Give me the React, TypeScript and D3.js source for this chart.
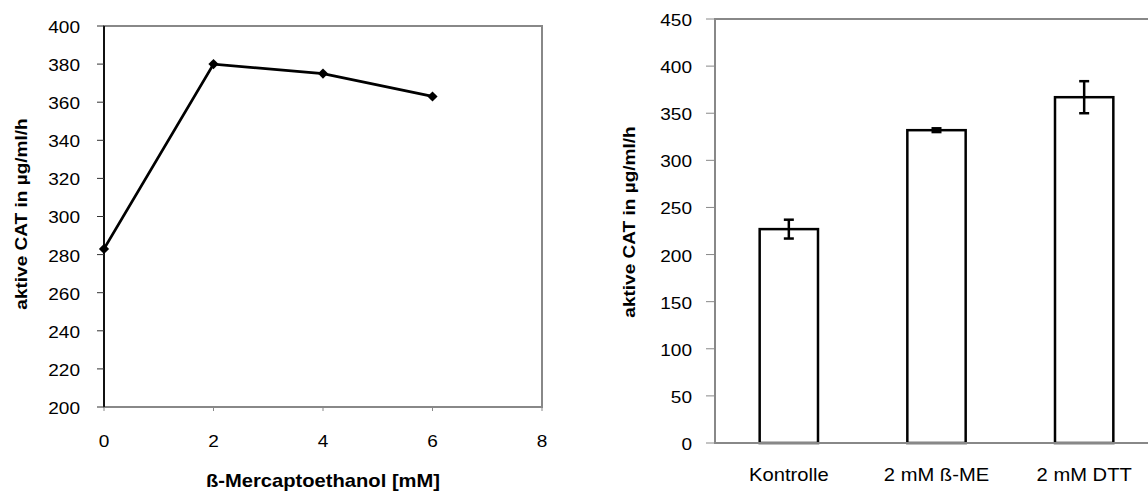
import React from "react";
import * as d3 from "d3";

const lineX = [0, 2, 4, 6];
const lineY = [283, 380, 375, 363];
const leftYTicks = [200, 220, 240, 260, 280, 300, 320, 340, 360, 380, 400];
const leftXTicks = [0, 2, 4, 6, 8];

const barCats = ["Kontrolle", "2 mM ß-ME", "2 mM DTT"];
const barVals = [227, 332, 367];
const barErr = [10, 2, 17];
const rightYTicks = [0, 50, 100, 150, 200, 250, 300, 350, 400, 450];

const yTitle = "aktive CAT in µg/ml/h";
const xTitle = "ß-Mercaptoethanol [mM]";

const FONT = "Arial, 'Liberation Sans', sans-serif";
const SX = 1.12;

function T(props: {
  x: number;
  y: number;
  size: number;
  anchor: "start" | "middle" | "end";
  bold?: boolean;
  rotate?: number;
  children: React.ReactNode;
}) {
  const { x, y, size, anchor, bold, rotate, children } = props;
  return (
    <text
      transform={`translate(${x},${y})${rotate ? ` rotate(${rotate})` : ""} scale(${SX},1)`}
      dy="0.35em"
      textAnchor={anchor}
      fontSize={size}
      fontWeight={bold ? "bold" : "normal"}
      fill="#000"
    >
      {children}
    </text>
  );
}

export default function App() {
  // Left chart
  const L = { left: 104, right: 542, top: 26, bottom: 407 };
  const lx = d3.scaleLinear().domain([0, 8]).range([L.left, L.right]);
  const ly = d3.scaleLinear().domain([200, 400]).range([L.bottom, L.top]);
  const linePath = d3
    .line<number>()
    .x((_, i) => lx(lineX[i]))
    .y((d) => ly(d))(lineY) as string;
  const diamond = d3.symbol(d3.symbolSquare, 52)() as string;

  // Right chart
  const R = { left: 715, right: 1158, top: 19, bottom: 443 };
  const rx = d3.scaleBand<string>().domain(barCats).range([R.left, R.right]).paddingInner(0.605).paddingOuter(0.3025);
  const ry = d3.scaleLinear().domain([0, 450]).range([R.bottom, R.top]);
  const bw = rx.bandwidth();

  return (
    <svg width={1148} height={494} style={{ position: "absolute", left: 0, top: 0, background: "#fff" }} fontFamily={FONT}>
      <rect x={0} y={0} width={1148} height={494} fill="#fff" />
      {/* LEFT CHART */}
      <rect x={L.left} y={L.top} width={L.right - L.left} height={L.bottom - L.top} fill="none" stroke="#888" strokeWidth={2} />
      <line x1={L.left} x2={L.left} y1={L.top} y2={L.bottom} stroke="#111" strokeWidth={2} />
      {leftYTicks.map((t) => (
        <g key={"ly" + t}>
          <line x1={L.left - 7} x2={L.left} y1={ly(t)} y2={ly(t)} stroke="#333" strokeWidth={1} />
          <T x={80} y={ly(t) + 1} size={17} anchor="end">
            {t}
          </T>
        </g>
      ))}
      {leftXTicks.map((t) => (
        <g key={"lx" + t}>
          <line x1={lx(t)} x2={lx(t)} y1={L.bottom} y2={L.bottom + 4} stroke="#888" strokeWidth={1} />
          <T x={lx(t)} y={441} size={17} anchor="middle">
            {t}
          </T>
        </g>
      ))}
      <path d={linePath} fill="none" stroke="#000" strokeWidth={2.8} />
      {lineY.map((v, i) => (
        <path key={"m" + i} d={diamond} transform={`translate(${lx(lineX[i])},${ly(v)}) rotate(45)`} fill="#000" />
      ))}
      <T x={(L.left + L.right) / 2} y={481} size={18} anchor="middle" bold>
        {xTitle}
      </T>
      <T x={21.5} y={214} size={17} anchor="middle" bold rotate={-90}>
        {yTitle}
      </T>

      {/* RIGHT CHART */}
      <rect x={R.left} y={R.top} width={R.right - R.left} height={R.bottom - R.top} fill="none" stroke="#888" strokeWidth={2} />
      {rightYTicks.map((t) => (
        <g key={"ry" + t}>
          <line x1={R.left - 9} x2={R.left} y1={ry(t)} y2={ry(t)} stroke="#888" strokeWidth={1} />
          <T x={692} y={ry(t) + 1} size={17} anchor="end">
            {t}
          </T>
        </g>
      ))}
      {barCats.map((c, i) => {
        const x0 = rx(c) as number;
        const cx = x0 + bw / 2;
        const hi = ry(barVals[i] + barErr[i]);
        const lo = ry(barVals[i] - barErr[i]);
        return (
          <g key={c}>
            <rect x={x0} y={ry(barVals[i])} width={bw} height={ry(0) - ry(barVals[i])} fill="#fff" stroke="#000" strokeWidth={2.5} />
            <line x1={cx} x2={cx} y1={hi} y2={lo} stroke="#000" strokeWidth={2.5} />
            <line x1={cx - 5} x2={cx + 5} y1={hi} y2={hi} stroke="#000" strokeWidth={2.5} />
            <line x1={cx - 5} x2={cx + 5} y1={lo} y2={lo} stroke="#000" strokeWidth={2.5} />
            <T x={cx} y={475} size={18} anchor="middle">
              {c}
            </T>
          </g>
        );
      })}
      <line x1={R.left} x2={R.right} y1={R.bottom} y2={R.bottom} stroke="#888" strokeWidth={2} />
      <T x={629} y={222} size={17} anchor="middle" bold rotate={-90}>
        {yTitle}
      </T>
    </svg>
  );
}
